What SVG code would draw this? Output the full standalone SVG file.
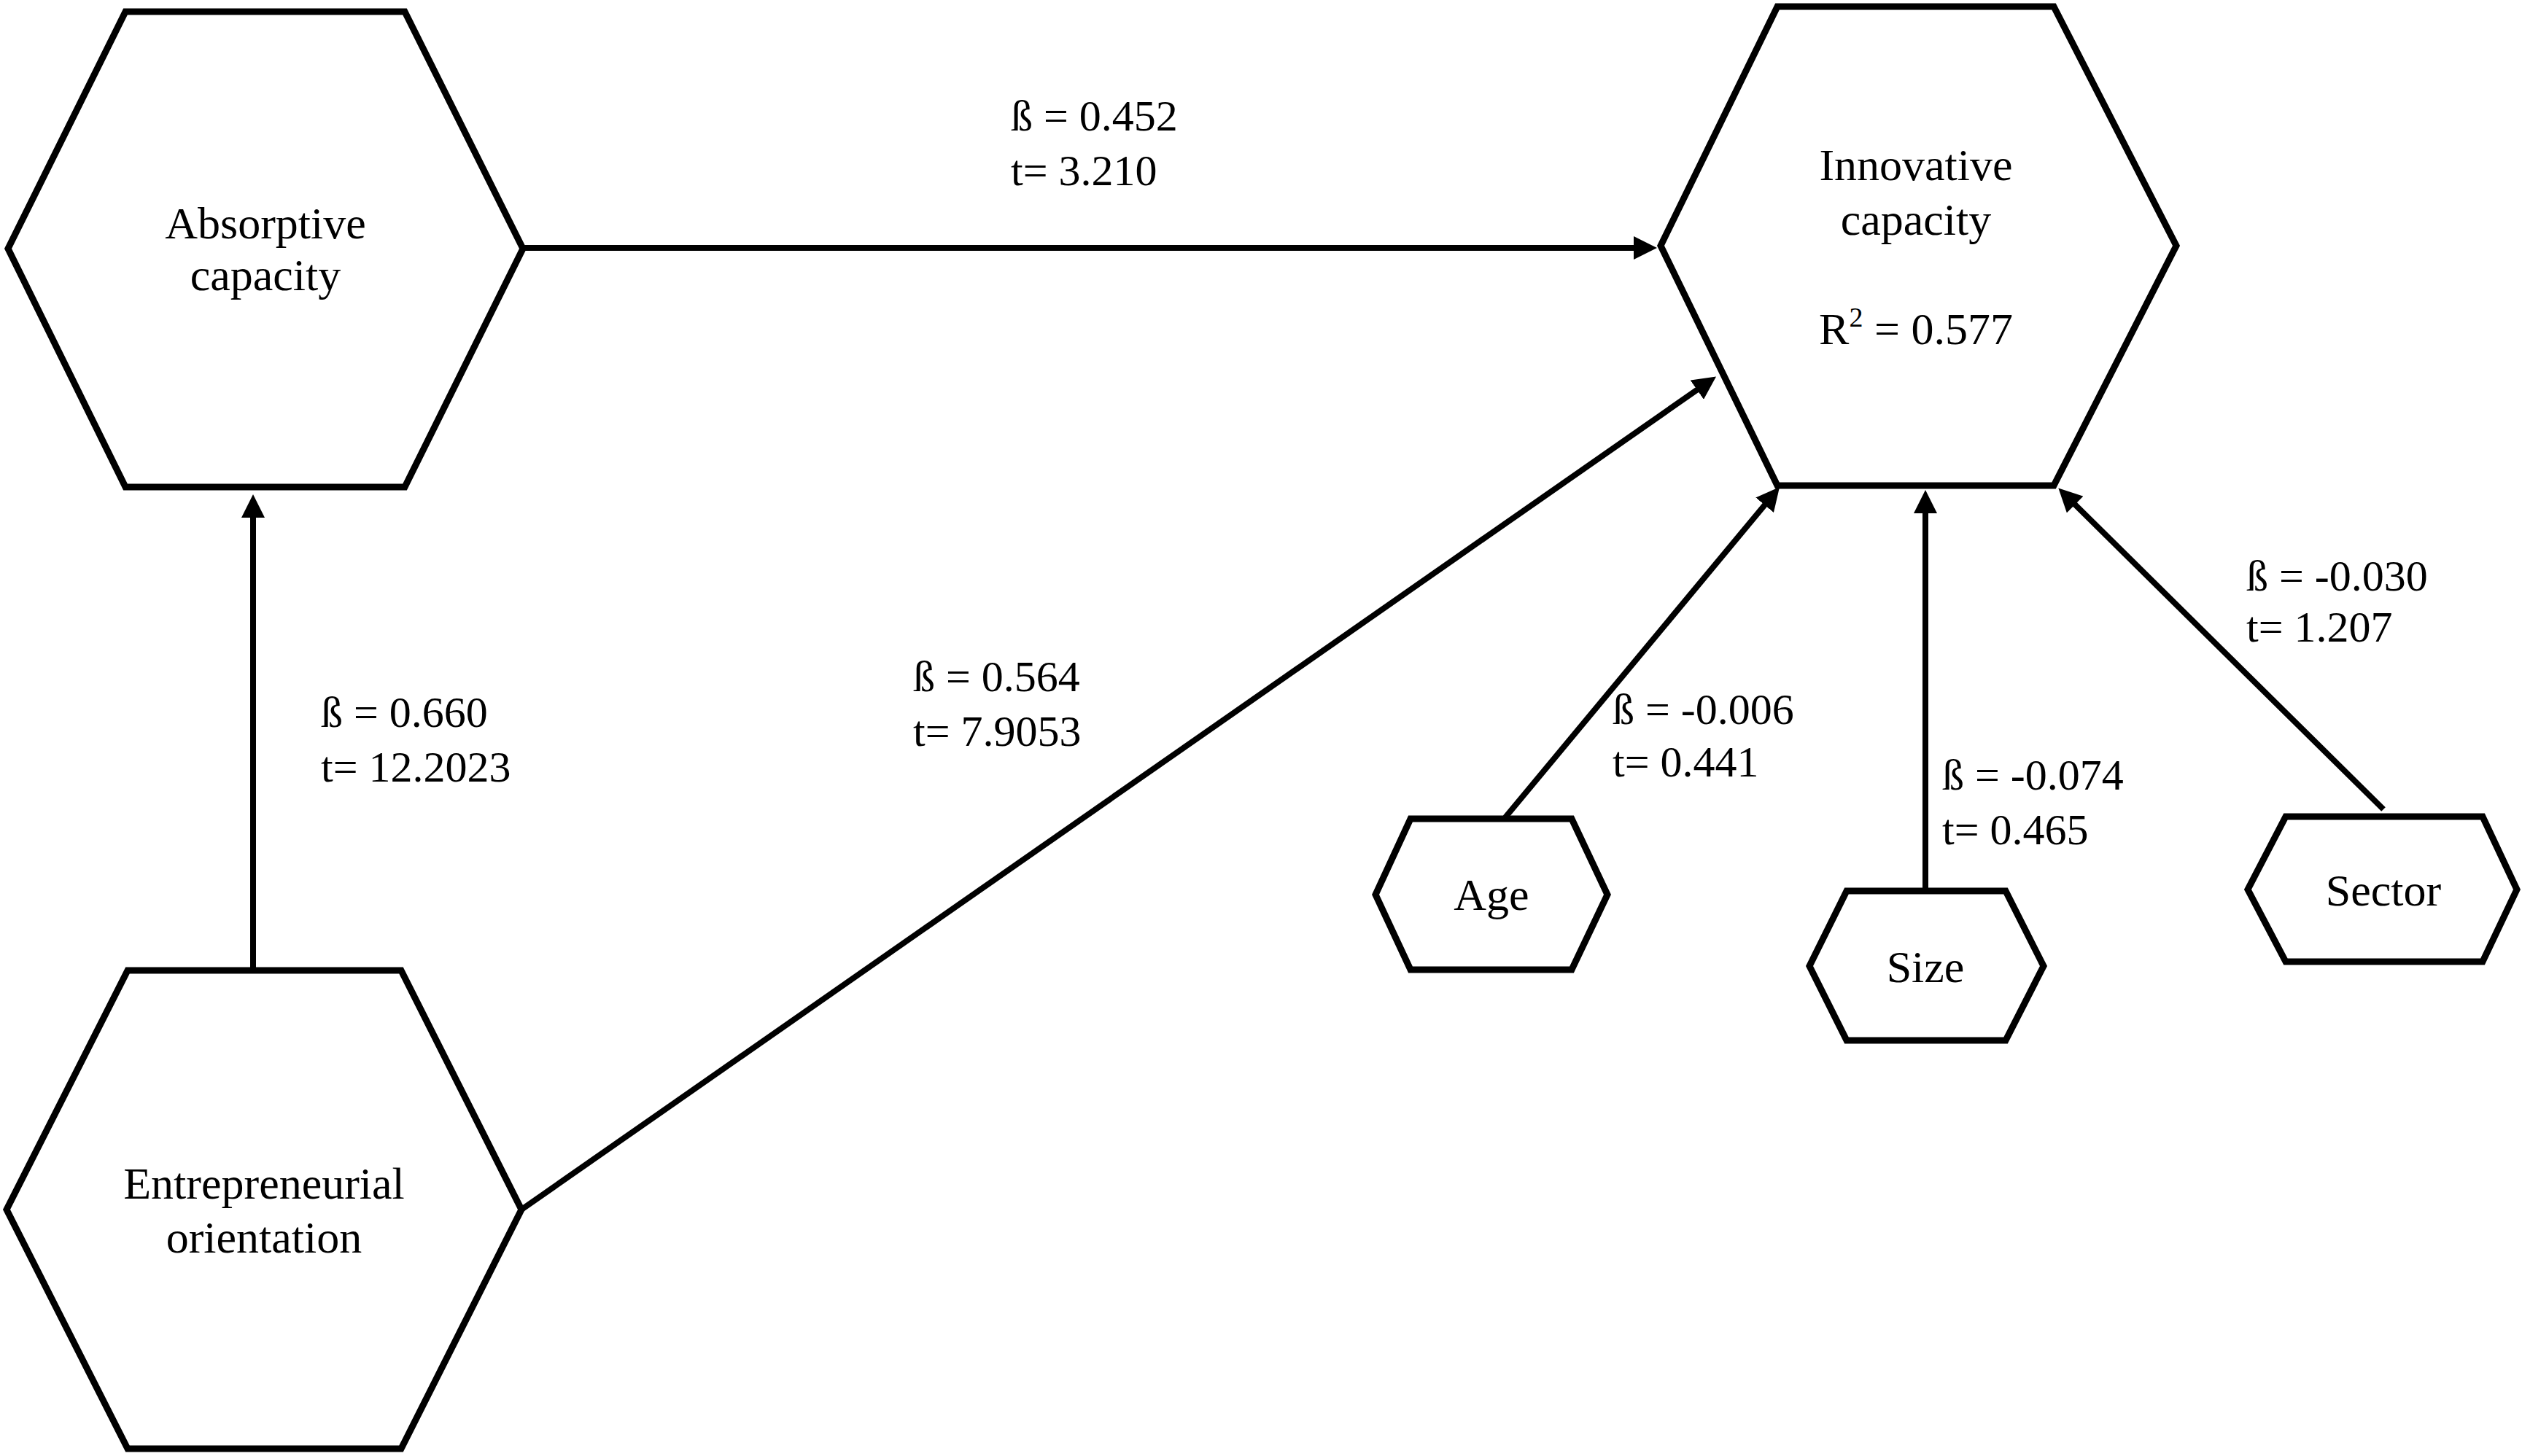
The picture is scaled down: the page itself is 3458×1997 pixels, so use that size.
<svg xmlns="http://www.w3.org/2000/svg" width="3458" height="1997" viewBox="0 0 3458 1997">
<style>
.hex{fill:#fff;stroke:#000;stroke-width:9;stroke-linejoin:miter}
.lbl{font-family:"Liberation Serif","Times New Roman",serif;font-size:60px;fill:#000}
.nt{font-family:"Liberation Serif","Times New Roman",serif;font-size:62px;fill:#000;text-anchor:middle}
.conn line{stroke:#000;stroke-width:8;marker-end:url(#arr)}
</style>
<defs>
<marker id="arr" markerUnits="userSpaceOnUse" markerWidth="32" markerHeight="32" viewBox="0 0 32 32" refX="10" refY="16" orient="auto">
<path d="M0,0 L32,16 L0,32 z" fill="#000"/>
</marker>
</defs>
<rect width="3458" height="1997" fill="#fff"/>
<g id="connectors" class="conn">
<line x1="717" y1="340" x2="2250" y2="340"/>
<line x1="347" y1="1331" x2="347" y2="700"/>
<line x1="715" y1="1659" x2="2335" y2="529"/>
<line x1="2064" y1="1121" x2="2426" y2="685"/>
<line x1="2640" y1="1222" x2="2640" y2="694"/>
<line x1="3268" y1="1110" x2="2838" y2="685"/>
</g>
<g id="absorptive">
<polygon class="hex" points="172,16 555,16 717,341 555,668 172,668 11,341"/>
<text class="nt" x="364" y="327">Absorptive</text>
<text class="nt" x="364" y="398">capacity</text>
</g>
<g id="entrepreneurial">
<polygon class="hex" points="175,1331 550,1331 715,1659 550,1987 175,1987 9,1659"/>
<text class="nt" x="362" y="1644">Entrepreneurial</text>
<text class="nt" x="362" y="1718">orientation</text>
</g>
<g id="innovative">
<polygon class="hex" points="2437,9 2816,9 2984,337 2816,666 2437,666 2277,337"/>
<text class="nt" x="2627" y="247">Innovative</text>
<text class="nt" x="2627" y="322">capacity</text>
<text class="nt" x="2627" y="472">R<tspan font-size="38" dy="-24">2</tspan><tspan dy="24"> = 0.577</tspan></text>
</g>
<g id="age">
<polygon class="hex" points="1934,1123 2155,1123 2204,1227 2155,1330 1934,1330 1886,1227"/>
<text class="nt" x="2045" y="1248">Age</text>
</g>
<g id="size">
<polygon class="hex" points="2532,1222 2750,1222 2802,1325 2750,1427 2532,1427 2481,1325"/>
<text class="nt" x="2640" y="1347">Size</text>
</g>
<g id="sector">
<polygon class="hex" points="3134,1120 3404,1120 3451,1220 3404,1319 3134,1319 3082,1220"/>
<text class="nt" x="3268" y="1242">Sector</text>
</g>
<g id="labels">
<text class="lbl" x="1386" y="179">ß = 0.452</text>
<text class="lbl" x="1386" y="254">t= 3.210</text>
<text class="lbl" x="440" y="997">ß = 0.660</text>
<text class="lbl" x="440" y="1072">t= 12.2023</text>
<text class="lbl" x="1252" y="948">ß = 0.564</text>
<text class="lbl" x="1252" y="1023">t= 7.9053</text>
<text class="lbl" x="2211" y="993">ß = -0.006</text>
<text class="lbl" x="2211" y="1065">t= 0.441</text>
<text class="lbl" x="2663" y="1083">ß = -0.074</text>
<text class="lbl" x="2663" y="1158">t= 0.465</text>
<text class="lbl" x="3080" y="810">ß = -0.030</text>
<text class="lbl" x="3080" y="880">t= 1.207</text>
</g>
</svg>
